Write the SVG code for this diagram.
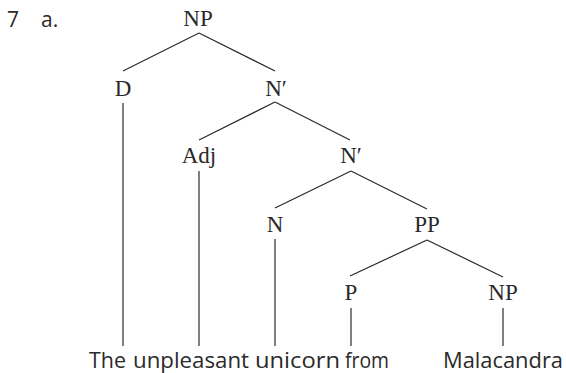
<svg xmlns="http://www.w3.org/2000/svg" width="566" height="373" viewBox="0 0 566 373">
<style>
.lbl{font-family:"Liberation Serif","DejaVu Serif",serif;font-size:23px;fill:#2a2a2a;text-anchor:middle}
.w{font-family:"Open Sans","Noto Sans","DejaVu Sans",sans-serif;font-size:22px;fill:#2a2a2a}
.e{stroke:#2a2a2a;stroke-width:1.2;fill:none}
</style>
<rect width="566" height="373" fill="#fff"/>
<g id="ex-number"><text class="w" x="7" y="27" style="font-size:21px;font-weight:500">7</text><text class="w" x="41" y="27" style="font-size:21px;font-weight:500">a.</text></g>
<g id="np1"><text class="lbl" x="198" y="26">NP</text></g>
<g id="d"><text class="lbl" x="123" y="96">D</text></g>
<g id="nbar1"><text class="lbl" x="276" y="96">N′</text></g>
<g id="adj"><text class="lbl" x="199" y="163">Adj</text></g>
<g id="nbar2"><text class="lbl" x="351" y="163">N′</text></g>
<g id="n"><text class="lbl" x="275" y="232">N</text></g>
<g id="pp"><text class="lbl" x="427" y="232">PP</text></g>
<g id="p"><text class="lbl" x="351" y="300">P</text></g>
<g id="np2"><text class="lbl" x="503" y="300">NP</text></g>
<g id="words">
<text class="w" x="89" y="368" textLength="37" lengthAdjust="spacingAndGlyphs">The</text>
<text class="w" x="133" y="368" textLength="116" lengthAdjust="spacingAndGlyphs">unpleasant</text>
<text class="w" x="255" y="368" textLength="85" lengthAdjust="spacingAndGlyphs">unicorn</text>
<text class="w" x="345" y="368" textLength="44" lengthAdjust="spacingAndGlyphs">from</text>
<text class="w" x="443" y="368" textLength="120" lengthAdjust="spacingAndGlyphs">Malacandra</text>
</g>
<g id="connectors" class="e">
<line x1="199" y1="33" x2="123" y2="71"/>
<line x1="199" y1="33" x2="275" y2="71"/>
<line x1="123" y1="103" x2="123" y2="346"/>
<line x1="275" y1="102" x2="199" y2="140"/>
<line x1="275" y1="102" x2="350" y2="140"/>
<line x1="199" y1="171" x2="199" y2="346"/>
<line x1="351" y1="171" x2="275" y2="208"/>
<line x1="351" y1="171" x2="427" y2="209"/>
<line x1="275" y1="239" x2="275" y2="346"/>
<line x1="427" y1="240" x2="350" y2="276"/>
<line x1="427" y1="240" x2="503" y2="277"/>
<line x1="351" y1="308" x2="351" y2="346"/>
<line x1="503" y1="308" x2="503" y2="346"/>
</g>
</svg>
